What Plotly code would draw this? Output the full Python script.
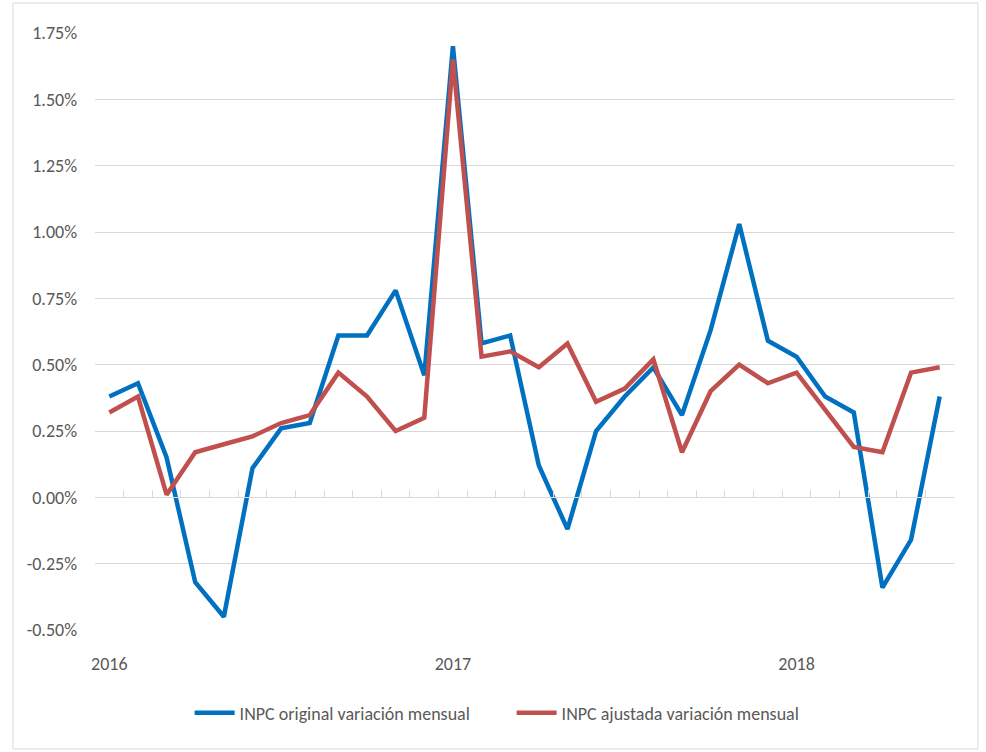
import plotly.graph_objects as go

months = [f"{y}-{m:02d}" for y in (2016, 2017, 2018) for m in range(1, 13)][:30]
year_labels = ["2016", "2017", "2018"]

inpc_original = [0.38, 0.43, 0.15, -0.32, -0.45, 0.11, 0.26, 0.28, 0.61, 0.61, 0.78, 0.46,
                 1.70, 0.58, 0.61, 0.12, -0.12, 0.25, 0.38, 0.49, 0.31, 0.63, 1.03, 0.59,
                 0.53, 0.38, 0.32, -0.34, -0.16, 0.38]
inpc_ajustada = [0.32, 0.38, 0.01, 0.17, 0.20, 0.23, 0.28, 0.31, 0.47, 0.38, 0.25, 0.30,
                 1.65, 0.53, 0.55, 0.49, 0.58, 0.36, 0.41, 0.52, 0.17, 0.40, 0.50, 0.43,
                 0.47, 0.33, 0.19, 0.17, 0.47, 0.49]

y_ticks = [-0.50, -0.25, 0.0, 0.25, 0.50, 0.75, 1.00, 1.25, 1.50, 1.75]

idx = list(range(len(months)))
FONT = "Carlito, Lato, sans-serif"
GRID = "#d9d9d9"

fig = go.Figure()
fig.add_trace(go.Scatter(x=idx, y=inpc_original, mode="lines",
                         name="INPC original variación mensual",
                         line=dict(color="#0070C0", width=4.5)))
fig.add_trace(go.Scatter(x=idx, y=inpc_ajustada, mode="lines",
                         name="INPC ajustada variación mensual",
                         line=dict(color="#C0504D", width=4.5)))
# invisible helper trace so the zero-crossing category axis is rendered
fig.add_trace(go.Scatter(x=idx, y=inpc_original, xaxis="x2", mode="none",
                         showlegend=False, hoverinfo="skip"))

xr = [-0.5, len(months) - 0.5]
ymin, ymax = y_ticks[0], y_ticks[-1]
zero_pos = (0 - ymin) / (ymax - ymin)

fig.update_layout(
    width=986, height=752,
    margin=dict(l=95, r=32, t=33, b=122),
    paper_bgcolor="white", plot_bgcolor="white",
    font=dict(family=FONT, size=18, color="#595959"),
    showlegend=True,
    legend=dict(orientation="h", x=0.485, xanchor="center", y=-0.139, yanchor="middle",
                font=dict(size=18, color="#595959"), itemwidth=40,
                entrywidth=267, entrywidthmode="pixels"),
    xaxis=dict(range=xr, tickmode="array", tickvals=[0, 12, 24], ticktext=year_labels,
               showgrid=False, zeroline=False, showline=False, ticks="",
               ticklabelstandoff=21),
    xaxis2=dict(range=xr, overlaying="x", anchor="free", position=zero_pos, side="bottom",
                tickmode="array", tickvals=[i - 0.5 for i in range(len(months) + 1)],
                showticklabels=False, ticks="inside", ticklen=7, tickcolor=GRID, tickwidth=1,
                showline=True, linecolor=GRID, linewidth=1, showgrid=False, zeroline=False),
    yaxis=dict(range=[ymin, ymax], tickmode="array", tickvals=y_ticks,
               ticktext=[f"{v:.2f}%" for v in y_ticks],
               showgrid=True, gridcolor=GRID, gridwidth=1, zeroline=False,
               showline=False, ticks="", ticklabelstandoff=17),
    shapes=[dict(type="rect", xref="paper", yref="paper",
                 x0=(13 - 95) / 859, x1=(978 - 95) / 859,
                 y0=-(749 - 630) / 597, y1=1 + (33 - 3) / 597,
                 line=dict(color=GRID, width=1), fillcolor="rgba(0,0,0,0)", layer="below")],
)

fig.write_html("out.html", config={"displayModeBar": False},
               post_script="document.body.style.margin='0px';")
